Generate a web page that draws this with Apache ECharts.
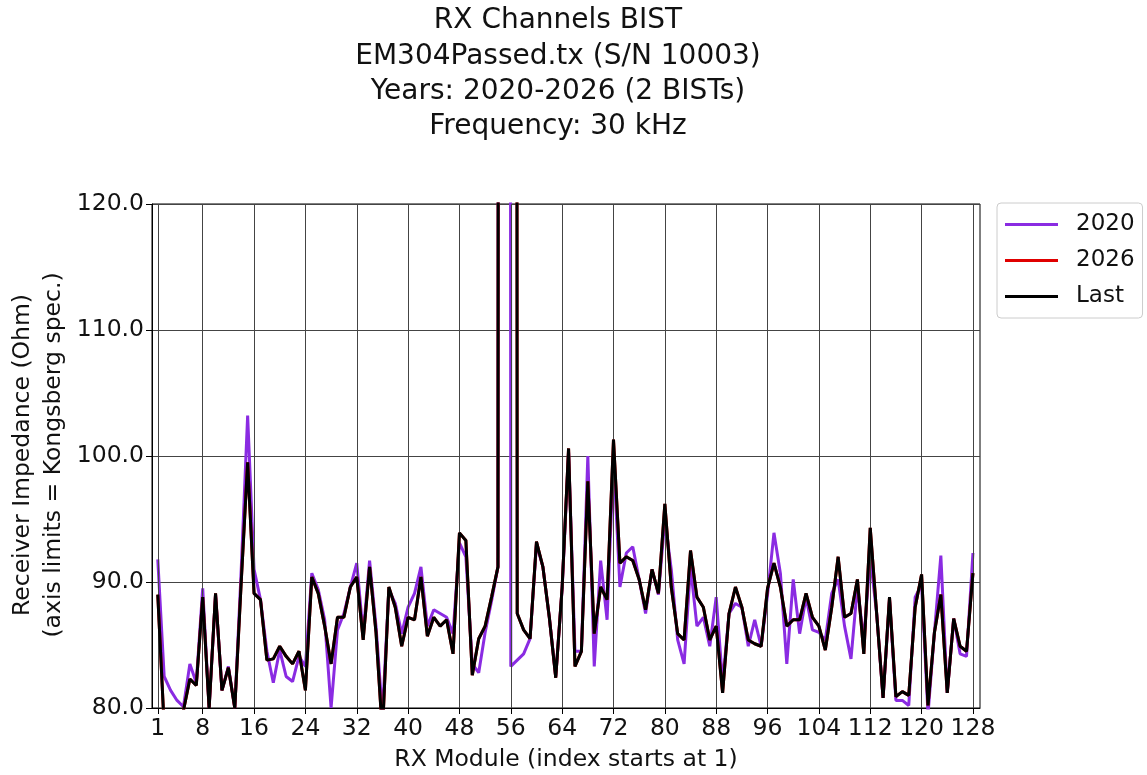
<!DOCTYPE html>
<html><head><meta charset="utf-8">
<script src="https://cdn.jsdelivr.net/npm/echarts@6/dist/echarts.min.js"></script>
<style>html,body{margin:0;padding:0;background:#fff}#c{width:1147px;height:775px}</style>
</head><body><div id="c"></div>
<script>
const titleLines = ['RX Channels BIST', 'EM304Passed.tx (S/N 10003)', 'Years: 2020-2026 (2 BISTs)', 'Frequency: 30 kHz'];
const yNameLines = ['Receiver Impedance (Ohm)', '(axis limits = Kongsberg spec.)'];
const xName = 'RX Module (index starts at 1)';
const seriesNames = ['2020', '2026', 'Last'];
const xTicks = [1, 8, 16, 24, 32, 40, 48, 56, 64, 72, 80, 88, 96, 104, 112, 120, 128];
const yMin = 80, yMax = 120, yStep = 10;

// Receiver impedance per RX module (index 1..128); 999 = off-scale reading
const y2020 = [
  91.8, 82.5, 81.4, 80.6, 80.1, 83.5, 82.0, 89.5, 80.0, 89.0,
  81.4, 83.3, 80.0, 91.0, 103.2, 91.0, 88.6, 84.5, 82.0, 84.6,
  82.5, 82.1, 84.1, 83.3, 90.7, 89.4, 87.0, 80.0, 86.2, 87.5,
  89.6, 91.5, 85.9, 91.7, 86.5, 79.5, 89.4, 88.3, 85.9, 88.0,
  89.1, 91.2, 86.5, 87.8, 87.5, 87.2, 85.9, 93.1, 92.0, 83.5,
  82.8, 86.0, 88.5, 91.2, 999, 83.3, 83.8, 84.3, 85.5, 93.0,
  91.2, 87.2, 82.5, 89.5, 100.3, 84.5, 84.5, 100.0, 83.3, 91.7,
  87.0, 99.9, 89.6, 92.3, 92.8, 90.2, 87.5, 91.0, 89.0, 95.0,
  91.0, 85.4, 83.5, 91.2, 86.5, 87.2, 84.9, 88.8, 82.0, 87.5,
  88.3, 88.0, 84.9, 87.0, 84.9, 89.0, 93.9, 90.7, 83.5, 90.2,
  85.9, 88.8, 86.2, 86.0, 85.4, 89.1, 90.2, 86.5, 83.9, 89.6,
  85.4, 92.0, 87.5, 80.8, 88.6, 80.6, 80.6, 80.2, 88.8, 89.8,
  79.5, 86.0, 92.1, 81.2, 87.1, 84.3, 84.1, 92.3
];
const yLast = [
  89.0, 78.5, 78.0, 78.5, 79.8, 82.3, 81.8, 88.8, 80.0, 89.1,
  81.4, 83.2, 80.0, 90.0, 99.5, 89.1, 88.6, 83.8, 83.9, 84.9,
  84.1, 83.5, 84.5, 81.4, 90.4, 89.1, 86.5, 83.5, 87.2, 87.2,
  89.6, 90.4, 85.4, 91.2, 86.0, 78.0, 89.6, 88.0, 84.9, 87.2,
  87.0, 90.4, 85.7, 87.2, 86.5, 87.0, 84.3, 93.9, 93.3, 82.6,
  85.5, 86.5, 88.8, 91.2, 999, 999, 87.5, 86.2, 85.5, 93.2,
  91.2, 87.2, 82.4, 89.6, 100.6, 83.3, 84.5, 98.0, 85.9, 89.6,
  88.6, 101.3, 91.5, 92.0, 91.7, 90.2, 87.8, 91.0, 89.1, 96.2,
  89.6, 85.9, 85.4, 92.5, 88.8, 88.0, 85.4, 86.5, 81.2, 87.5,
  89.6, 88.0, 85.4, 85.1, 84.9, 89.5, 91.5, 89.6, 86.5, 87.0,
  87.0, 89.1, 87.2, 86.5, 84.6, 88.0, 92.0, 87.2, 87.5, 90.2,
  84.3, 94.3, 87.5, 80.8, 88.8, 80.9, 81.3, 81.0, 88.0, 90.6,
  80.2, 86.0, 89.0, 81.2, 87.1, 84.9, 84.5, 90.7
];
// The 2026 BIST is the last BIST, so its trace is the same reading (drawn beneath "Last")
const y2026 = yLast.slice();

const FONT = 'DejaVu Sans';
const toPairs = arr => arr.map((v, i) => [i + 1, v]);
const chart = echarts.init(document.getElementById('c'), null, {renderer: 'canvas'});

const graphics = [];
titleLines.forEach((t, i) => graphics.push({
  type: 'text', x: 558, y: 21 + i * 35.3, z: 10,
  style: {text: t, font: '28px "DejaVu Sans"', fill: '#111', textAlign: 'center', textVerticalAlign: 'middle'}
}));
yNameLines.forEach((t, i) => graphics.push({
  type: 'text', x: 23 + i * 31, y: 455, rotation: Math.PI / 2, z: 10,
  style: {text: t, font: '23.5px "DejaVu Sans"', fill: '#111', textAlign: 'center', textVerticalAlign: 'middle'}
}));

const option = {
  animation: false,
  backgroundColor: '#fff',
  graphic: graphics,
  grid: {left: 152, top: 204, width: 828, height: 504, show: true, borderColor: '#000', borderWidth: 1,
         backgroundColor: '#fff', containLabel: false, outerBoundsMode: 'none'},
  legend: {
    data: seriesNames, orient: 'vertical', left: 997, top: 203, icon: 'rect',
    padding: [10, 8, 10, 8], itemWidth: 53, itemHeight: 3, itemGap: 13,
    backgroundColor: '#fff', borderColor: '#ccc', borderWidth: 1, borderRadius: 4,
    textStyle: {fontSize: 23, fontFamily: FONT, color: '#111', padding: [0, 0, 0, 13]}
  },
  xAxis: {
    type: 'value', min: 0.1, max: 129.1,
    axisLine: {show: true, lineStyle: {color: '#000', width: 1}},
    axisTick: {show: true, customValues: xTicks, length: 6, lineStyle: {color: '#000'}},
    axisLabel: {customValues: xTicks, fontSize: 23.5, fontFamily: FONT, color: '#111', margin: 9},
    splitLine: {show: false},
    name: xName, nameLocation: 'middle', nameGap: 40,
    nameTextStyle: {fontSize: 23.5, fontFamily: FONT, color: '#111'}
  },
  yAxis: {
    type: 'value', min: yMin, max: yMax, interval: yStep,
    axisLine: {show: true, lineStyle: {color: '#000', width: 1}},
    axisTick: {show: true, length: 6, lineStyle: {color: '#000'}},
    axisLabel: {formatter: v => v.toFixed(1), fontSize: 23.5, fontFamily: FONT, color: '#111', margin: 8},
    splitLine: {show: true, lineStyle: {color: '#444', width: 1}}
  },
  series: [
    {name: 'vgrid', type: 'line', data: [], silent: true, z: 1,
     markLine: {silent: true, symbol: ['none', 'none'], label: {show: false}, animation: false,
                lineStyle: {color: '#444', width: 1, type: 'solid'},
                emphasis: {disabled: true},
                data: xTicks.map(v => ({xAxis: v}))}},
    {name: seriesNames[0], type: 'line', data: toPairs(y2020), symbol: 'none', clip: true, z: 3,
     lineStyle: {color: '#8a2be2', width: 3}, itemStyle: {color: '#8a2be2'}},
    {name: seriesNames[1], type: 'line', data: toPairs(y2026), symbol: 'none', clip: true, z: 4,
     lineStyle: {color: '#e00000', width: 3}, itemStyle: {color: '#e00000'}},
    {name: seriesNames[2], type: 'line', data: toPairs(yLast), symbol: 'none', clip: true, z: 5,
     lineStyle: {color: '#000', width: 3}, itemStyle: {color: '#000'}}
  ]
};
chart.setOption(option);
</script>
</body></html>
